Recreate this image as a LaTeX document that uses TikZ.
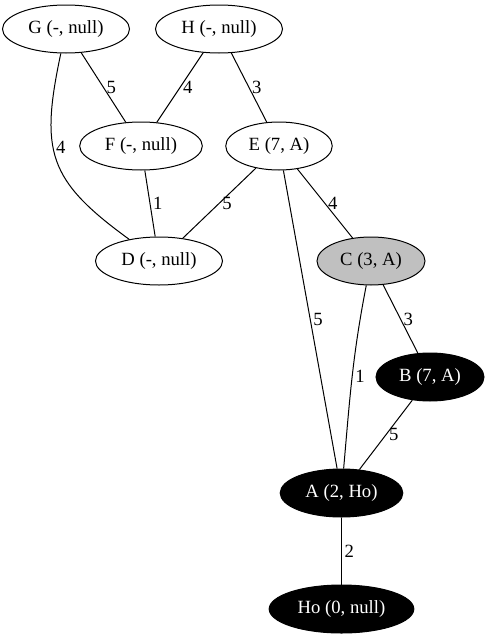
\documentclass[tikz,border=0pt]{standalone}
\usepackage{fontspec}
\setmainfont{Liberation Serif}
\usetikzlibrary{shapes.geometric}
\begin{document}
\begin{tikzpicture}[x=0.75pt,y=-0.75pt,line width=0.75pt,
  vertex/.style={draw,ellipse,inner xsep=5.5pt,inner ysep=0pt,minimum height=36pt,font=\fontsize{14pt}{16pt}\selectfont},
  done/.style={vertex,fill=black,text=white},
  active/.style={vertex,fill={rgb,255:red,192;green,192;blue,192}},
  weight/.style={right,inner sep=2pt,font=\fontsize{14pt}{16pt}\selectfont}]
  \useasboundingbox (0,0) rectangle (490,639);
  \node[vertex] (G) at (66,29) {G (-, null)};
  \node[vertex] (H) at (219,29) {H (-, null)};
  \node[vertex] (F) at (141,146) {F (-, null)};
  \node[vertex] (E) at (279,146) {E (7, A)};
  \node[vertex] (D) at (159,261) {D (-, null)};
  \node[active] (C) at (371,261) {C (3, A)};
  \node[done] (B) at (430,377) {B (7, A)};
  \node[done] (A) at (341.5,493) {A (2, Ho)};
  \node[done] (Ho) at (341.5,609) {Ho (0, null)};

  \draw (G) -- node[weight] (wGF) {5} (F);
  \draw (H) -- node[weight] (wHF) {4} (F);
  \draw (H) -- node[weight] (wHE) {3} (E);
  \draw (G) to[out=-102,in=144,looseness=1.3] node[weight,pos=0.42] (wGD) {4} (D);
  \draw (F) -- node[weight] (wFD) {1} (D);
  \draw (E) -- node[weight] (wED) {5} (D);
  \draw (E) -- node[weight] (wEC) {4} (C);
  \draw (E) -- node[weight] (wEA) {5} (A);
  \draw (C) to[out=-101,in=85] node[weight] (wCA) {1} (A);
  \draw (C) -- node[weight] (wCB) {3} (B);
  \draw (B) -- node[weight] (wBA) {5} (A);
  \draw (A) -- node[weight] (wAHo) {2} (Ho);
\end{tikzpicture}
\end{document}
